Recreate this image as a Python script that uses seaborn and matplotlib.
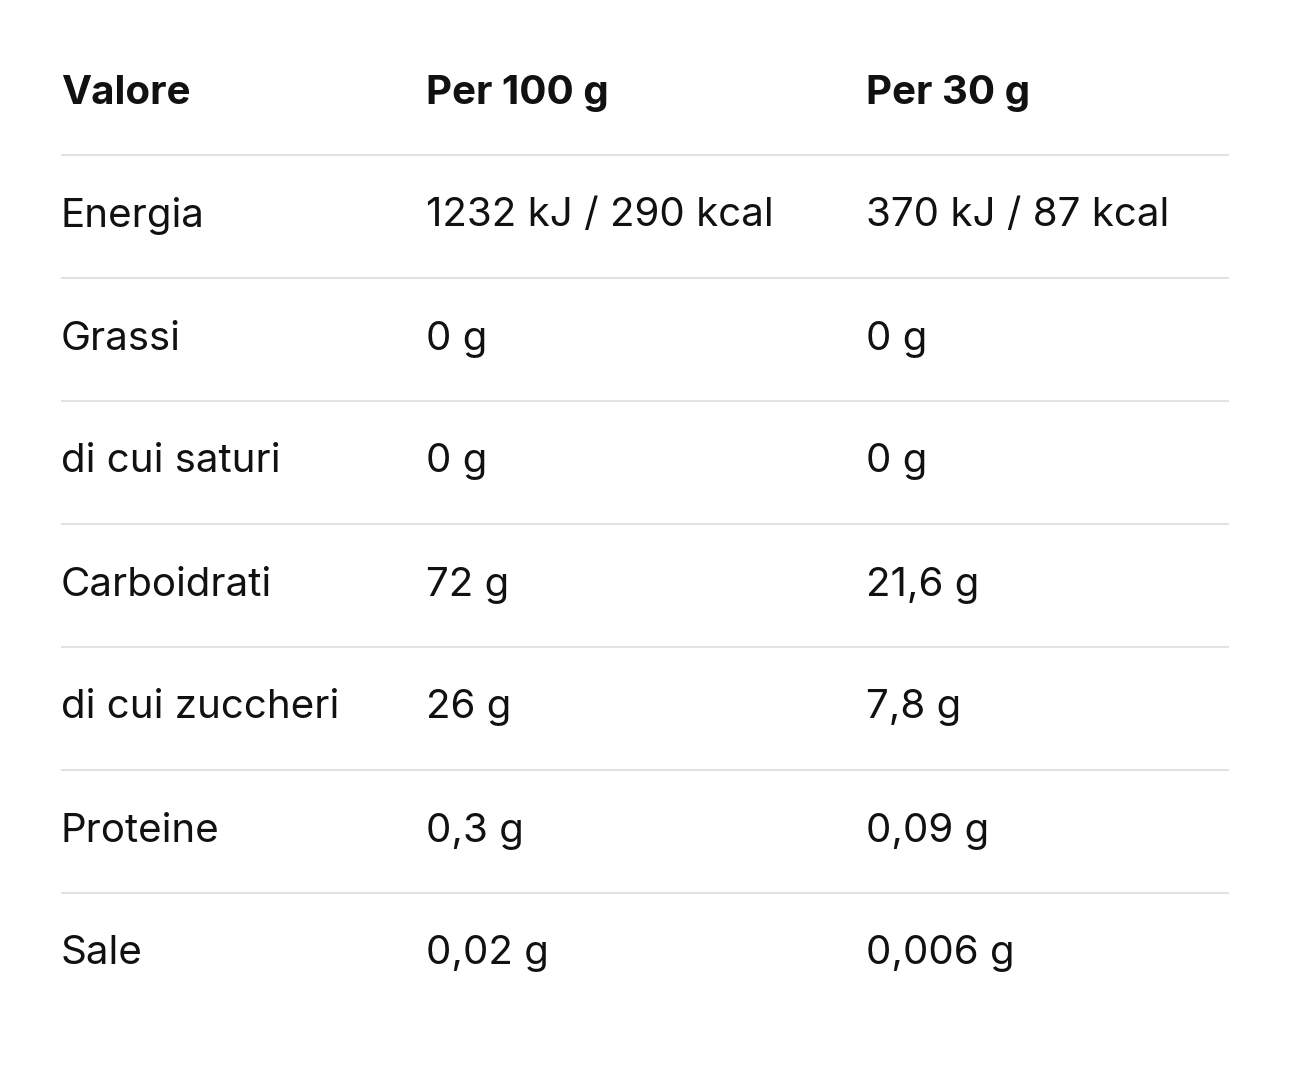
import matplotlib
matplotlib.use("Agg")
import matplotlib.pyplot as plt
import seaborn as sns

headers = ["Valore", "Per 100 g", "Per 30 g"]
nutrients = ["Energia", "Grassi", "di cui saturi", "Carboidrati", "di cui zuccheri", "Proteine", "Sale"]
per100 = ["1232 kJ / 290 kcal", "0 g", "0 g", "72 g", "26 g", "0,3 g", "0,02 g"]
per30 = ["370 kJ / 87 kcal", "0 g", "0 g", "21,6 g", "7,8 g", "0,09 g", "0,006 g"]

sns.set_theme(style="white")
plt.rcParams['font.family'] = ['Inter', 'DejaVu Sans']

fig = plt.figure(figsize=(12.9, 10.66), dpi=100)
ax = fig.add_axes([0, 0, 1, 1])
ax.set_xlim(0, 1290)
ax.set_ylim(1066, 0)
ax.axis("off")

col_x = [61, 426, 866]
y0, dy = 93, 123
fs = 29
for x, h in zip(col_x, headers):
    ax.text(x, y0, h, fontsize=fs, fontweight="bold", va="center", ha="left", color="#111111")
for i, row in enumerate(zip(nutrients, per100, per30)):
    y = y0 + dy * (i + 1)
    ax.hlines(y - dy / 2, 61, 1229, color="#e2e2e2", lw=1.5)
    for x, t in zip(col_x, row):
        ax.text(x, y, t, fontsize=fs, va="center", ha="left", color="#111111")

fig.savefig("out.png", dpi=100, facecolor="white")
